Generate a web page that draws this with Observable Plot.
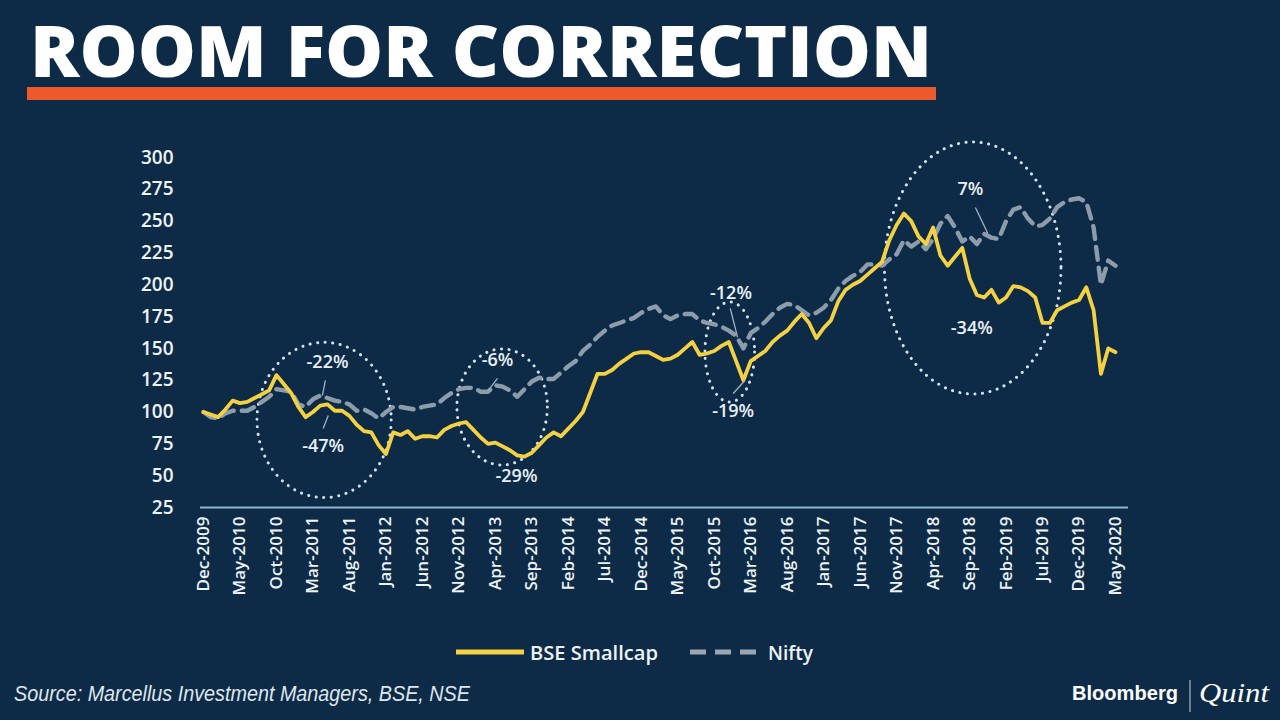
<!DOCTYPE html>
<html>
<head>
<meta charset="utf-8">
<script src="https://cdn.jsdelivr.net/npm/d3@7"></script>
<script src="https://cdn.jsdelivr.net/npm/@observablehq/plot@0.6"></script>
<style>
  html, body { margin: 0; padding: 0; }
  body { width: 1280px; height: 720px; background: #0d2b47; position: relative; overflow: hidden; font-family: "Open Sans", sans-serif; }
  #chart { position: absolute; left: 0; top: 0; }
  #overlay { position: absolute; left: 0; top: 0; }
  #chart svg [aria-label="y-axis tick label"] text { font-size: 19px; font-weight: 600; }
  #chart svg [aria-label="x-axis tick label"] text { font-size: 17px; font-weight: 600; }
  #chart svg [aria-label="text"] text { font-size: 18px; font-weight: 600; }
</style>
</head>
<body>
<div id="chart"></div>
<svg id="overlay" width="1280" height="720"></svg>
<script>
// ---- Data (monthly, Dec-2009 .. May-2020, rebased to 100) ----
const tickLabels = ["Dec-2009","May-2010","Oct-2010","Mar-2011","Aug-2011","Jan-2012","Jun-2012","Nov-2012",
  "Apr-2013","Sep-2013","Feb-2014","Jul-2014","Dec-2014","May-2015","Oct-2015","Mar-2016","Aug-2016",
  "Jan-2017","Jun-2017","Nov-2017","Apr-2018","Sep-2018","Feb-2019","Jul-2019","Dec-2019","May-2020"];
const yTicks = [25, 50, 75, 100, 125, 150, 175, 200, 225, 250, 275, 300];

const smallcap = [
  100, 98, 96, 102, 109, 107, 108, 111, 114, 117,
  129, 122, 115, 104, 96, 100, 105, 106, 101, 101,
  97, 90, 85, 84, 74, 67, 84, 82, 85, 79,
  81, 81, 80, 86, 89, 91, 92, 86, 80, 75,
  76, 73, 70, 66, 65, 68, 74, 80, 84, 81,
  87, 93, 100, 115, 130, 130, 133, 138, 142, 146,
  147, 147, 144, 141, 142, 145, 150, 155, 145, 146,
  148, 152, 155, 140, 125, 140, 144, 148, 155, 160,
  164, 171, 177, 170, 158, 166, 172, 187, 196, 200,
  203, 208, 213, 218, 235, 247, 256, 250, 238, 232,
  245, 223, 215, 222, 229, 205, 192, 190, 196, 186,
  190, 199, 198, 195, 190, 170, 170, 180, 183, 186,
  188, 198, 180, 130, 150, 147
];
const nifty = [
  100, 96, 95, 99, 101, 101, 101, 104, 108, 112,
  118, 117, 116, 106, 104, 110, 113, 111, 109, 108,
  106, 101, 102, 99, 95, 100, 104, 104, 103, 102,
  104, 105, 106, 111, 115, 118, 119, 119, 116, 116,
  121, 120, 117, 112, 118, 124, 127, 126, 126, 131,
  136, 140, 148, 153, 159, 164, 168, 170, 172, 174,
  178, 181, 183, 176, 173, 176, 177, 177, 172, 170,
  169, 167, 164, 160, 150, 162, 166, 171, 177, 182,
  185, 184, 180, 176, 178, 182, 188, 197, 203, 207,
  210, 216, 216, 215, 220, 224, 235, 230, 234, 228,
  236, 248, 254, 245, 234, 238, 232, 240, 237, 236,
  250, 259, 261, 252, 246, 247, 252, 261, 265, 267,
  268, 265, 245, 200, 219, 215
];

// Annotations (x in months since Dec-2009, y in index value)
const noteLabels = ["-22%", "-47%", "-6%", "-29%", "-12%", "-19%", "7%", "-34%"];
const noteX = [17.0, 16.4, 40.3, 42.9, 72.3, 72.6, 105.1, 105.3];
const noteY = [139, 73, 141, 49.5, 193, 101, 275, 165.5];

const arrowX1 = [16.7, 17.1, 40.3, 72.2, 72.6, 105.8];
const arrowY1 = [124.8, 97.3, 126.4, 181.4, 114.6, 260.7];
const arrowX2 = [16.3, 16.4, 39.0, 73.2, 74.2, 107.5];
const arrowY2 = [113, 87.1, 116.9, 158.6, 124.8, 240.3];

const ellipseX = [16.6, 41.0, 72.2, 105.5];
const ellipseY = [93.4, 103.6, 146.8, 212.8];
const ellipseRX = [9.2, 6.2, 3.4, 12.1];
const ellipseRY = [61, 45.6, 39.3, 99];

// ---- Build ----
const xTicks = tickLabels.map((_, k) => k * 5);
const notes = noteLabels.map((t, k) => ({t, x: noteX[k], y: noteY[k]}));
const arrows = arrowX1.map((_, k) => ({x1: arrowX1[k], y1: arrowY1[k], x2: arrowX2[k], y2: arrowY2[k]}));
const ellipses = ellipseX.map((_, k) => ({cx: ellipseX[k], cy: ellipseY[k], rx: ellipseRX[k], ry: ellipseRY[k]}));

const ellipseMark = (index, scales) => {
  const g = d3.create("svg:g").attr("aria-label", "ellipses");
  for (const e of ellipses) {
    const cx = scales.x(e.cx), cy = scales.y(e.cy);
    g.append("ellipse")
      .attr("cx", cx).attr("cy", cy)
      .attr("rx", scales.x(e.cx + e.rx) - cx)
      .attr("ry", scales.y(e.cy - e.ry) - cy)
      .attr("fill", "none")
      .attr("stroke", "#d5e3ee")
      .attr("stroke-width", 3)
      .attr("stroke-linecap", "round")
      .attr("stroke-dasharray", "0.1 7.5");
  }
  return g.node();
};

const plot = Plot.plot({
  width: 1280,
  height: 620,
  marginLeft: 200,
  marginRight: 152,
  marginTop: 157,
  marginBottom: 113,
  style: {background: "transparent", color: "#eef3f7", fontFamily: "'Open Sans', sans-serif"},
  x: {type: "linear", domain: [0, 125], insetLeft: 3, insetRight: 13},
  y: {domain: [25, 300]},
  marks: [
    Plot.axisY({ticks: yTicks, tickSize: 0, tickPadding: 27, label: null, fill: "#eef3f7"}),
    Plot.axisX({ticks: xTicks, tickFormat: i => tickLabels[i / 5], tickRotate: -90, tickSize: 0, tickPadding: 9, label: null, fill: "#eef3f7"}),
    Plot.ruleY([25], {stroke: "#8fb6d1", strokeWidth: 2}),
    ellipseMark,
    Plot.lineY(nifty, {stroke: "#8d9cab", strokeWidth: 4.4, strokeDasharray: "13,8", strokeLinejoin: "round"}),
    Plot.lineY(smallcap, {stroke: "#f4d142", strokeWidth: 3.8, strokeLinejoin: "round"}),
    Plot.link(arrows, {x1: "x1", y1: "y1", x2: "x2", y2: "y2", stroke: "#9fb4c6", strokeWidth: 1.3}),
    Plot.text(notes, {x: "x", y: "y", text: "t", fill: "#e9f0f6"})
  ]
});
document.getElementById("chart").append(plot);

// ---- Title, legend, footer ----
const ov = d3.select("#overlay");
ov.append("text").attr("x", 30).attr("y", 77)
  .attr("font-family", "'Open Sans', sans-serif").attr("font-weight", 800).attr("font-size", 70)
  .attr("textLength", 902).attr("lengthAdjust", "spacingAndGlyphs")
  .attr("fill", "#ffffff").text("ROOM FOR CORRECTION");
ov.append("rect").attr("x", 27).attr("y", 87).attr("width", 909).attr("height", 13).attr("fill", "#ec5a2c");

// legend
ov.append("line").attr("x1", 456).attr("x2", 524).attr("y1", 652).attr("y2", 652)
  .attr("stroke", "#f4d142").attr("stroke-width", 5);
ov.append("text").attr("x", 530).attr("y", 660)
  .attr("font-family", "'Open Sans', sans-serif").attr("font-weight", 600).attr("font-size", 19)
  .attr("textLength", 128).attr("lengthAdjust", "spacingAndGlyphs")
  .attr("fill", "#eef3f7").text("BSE Smallcap");
ov.append("line").attr("x1", 690).attr("x2", 756).attr("y1", 652).attr("y2", 652)
  .attr("stroke", "#9aa7b3").attr("stroke-width", 5).attr("stroke-dasharray", "16,9");
ov.append("text").attr("x", 768).attr("y", 660)
  .attr("font-family", "'Open Sans', sans-serif").attr("font-weight", 600).attr("font-size", 19)
  .attr("textLength", 45).attr("lengthAdjust", "spacingAndGlyphs")
  .attr("fill", "#eef3f7").text("Nifty");

// footer
ov.append("text").attr("x", 14).attr("y", 701)
  .attr("font-family", "'Liberation Sans Narrow', 'Liberation Sans', sans-serif").attr("font-style", "italic").attr("font-size", 22)
  .attr("textLength", 456).attr("lengthAdjust", "spacingAndGlyphs")
  .attr("fill", "#dfe6ec").text("Source: Marcellus Investment Managers, BSE, NSE");
ov.append("text").attr("x", 1072).attr("y", 700)
  .attr("font-family", "'Liberation Sans Narrow', 'Liberation Sans', sans-serif").attr("font-weight", 700).attr("font-size", 21)
  .attr("textLength", 106).attr("lengthAdjust", "spacingAndGlyphs")
  .attr("fill", "#ffffff").text("Bloomberg");
ov.append("line").attr("x1", 1190).attr("x2", 1190).attr("y1", 680).attr("y2", 712)
  .attr("stroke", "#c9d2da").attr("stroke-width", 1);
ov.append("text").attr("x", 1199).attr("y", 702)
  .attr("font-family", "'Liberation Serif', 'DejaVu Serif', serif").attr("font-style", "italic").attr("font-size", 27)
  .attr("textLength", 70).attr("lengthAdjust", "spacingAndGlyphs")
  .attr("fill", "#ffffff").text("Quint");
</script>
</body>
</html>
